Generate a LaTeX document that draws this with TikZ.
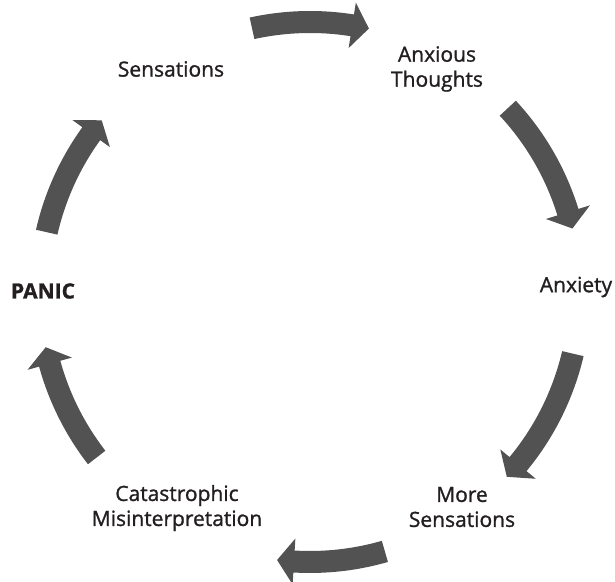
\documentclass[tikz,border=0pt]{standalone}
\usepackage{fontspec}
\setmainfont{Open Sans}[FakeBold=1.2]
\begin{document}
\begin{tikzpicture}[x=1pt,y=1pt,
  lbl/.style={font=\fontsize{21}{25}\selectfont, text=txtc, align=center, inner sep=0pt},
  arrowfill/.style={fill=arrc}]
\definecolor{txtc}{HTML}{231F20}
\definecolor{arrc}{HTML}{525252}
\useasboundingbox (0,0) rectangle (615,581);
\coordinate (c) at (310,289);
\newcommand\cycarr[2]{%
  \pgfmathsetmacro\hb{#2+3.6}%
  \fill[arrowfill, shift={(c)}] (#1:281) arc[start angle=#1, end angle=\hb, radius=281]
    -- (\hb:293) -- (#2:270) -- (\hb:247) -- (\hb:259)
    arc[start angle=\hb, end angle=#1, radius=259] -- cycle;}
\node[lbl] (sens) at (171,512) {Sensations};
\node[lbl] (anxt) at (437,512) {Anxious\\Thoughts};
\node[lbl] (anxy) at (576,294) {Anxiety};
\node[lbl] (more) at (462,74) {More\\Sensations};
\node[lbl] (cat) at (177,73) {Catastrophic\\Misinterpretation};
\node[lbl, font=\fontsize{21}{25}\selectfont\bfseries] (panic) at (43,290) {PANIC};
\cycarr{102.4}{77.4}
\cycarr{42.9}{13.6}
\cycarr{-13.2}{-43.2}
\cycarr{-73.9}{-97}
\cycarr{-142.2}{-168.2}
\cycarr{167.2}{140.5}
\end{tikzpicture}
\end{document}
